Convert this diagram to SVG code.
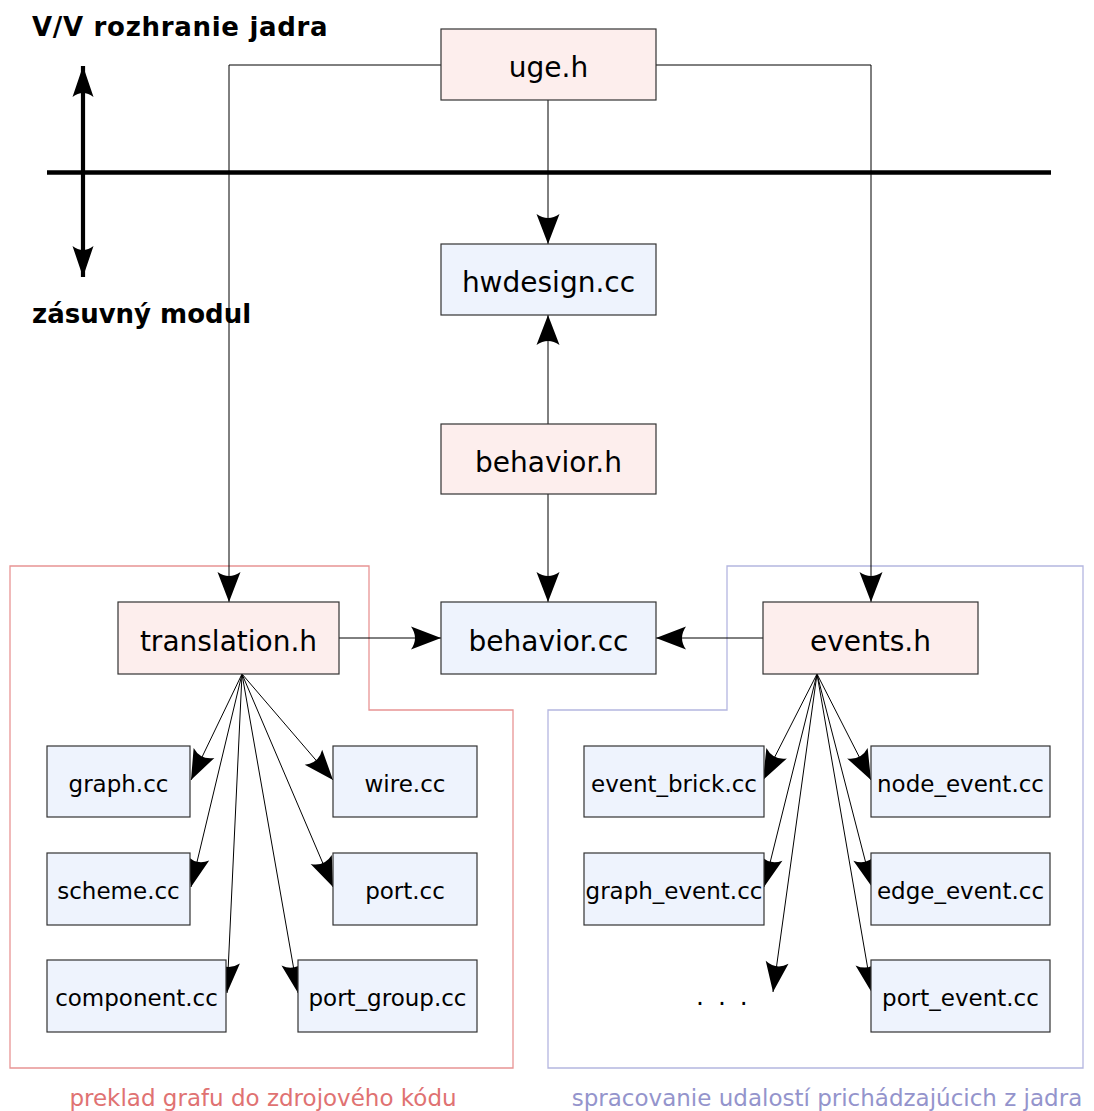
<svg xmlns="http://www.w3.org/2000/svg" width="1094" height="1111" viewBox="0 0 1094 1111">
  <style>
    .hdr rect { fill: #fdeeed; stroke: #333; stroke-width: 1.2; }
    .src rect { fill: #eef3fd; stroke: #333; stroke-width: 1.2; }
    .big { font-family: "DejaVu Sans", sans-serif; font-size: 28px; fill: #000; text-anchor: middle; }
    .small { font-family: "DejaVu Sans", sans-serif; font-size: 23px; fill: #000; text-anchor: middle; }
    .title { font-family: "DejaVu Sans", sans-serif; font-size: 26px; font-weight: bold; fill: #000; }
    .edge { fill: none; stroke: #000; stroke-width: 1; marker-end: url(#head); }
    .group-red { fill: none; stroke: #e89494; stroke-width: 1.3; }
    .group-blue { fill: none; stroke: #b4b6e0; stroke-width: 1.3; }
  </style>
  <defs>
    <marker id="head" viewBox="-31 -12 32 24" refX="0" refY="0" markerWidth="32" markerHeight="24" markerUnits="userSpaceOnUse" orient="auto">
      <path d="M0,0 L-30,-11.5 Q-22,0 -30,11.5 Z" fill="#000"/>
    </marker>
    <marker id="bighead" viewBox="-32 -12 33 24" refX="0" refY="0" markerWidth="33" markerHeight="24" markerUnits="userSpaceOnUse" orient="auto-start-reverse">
      <path d="M0,0 L-31,-10.5 Q-23,0 -31,10.5 Z" fill="#000"/>
    </marker>
  </defs>

  <rect width="1094" height="1111" fill="#fff"/>

  <!-- module group outlines -->
  <path class="group-red" d="M10,566 H369 V710 H513 V1068 H10 Z"/>
  <path class="group-blue" d="M727,566 H1083 V1068 H548 V710 H727 Z"/>

  <!-- kernel / plug-in boundary -->
  <g id="boundary">
    <line x1="47" y1="172.5" x2="1051" y2="172.5" stroke="#000" stroke-width="4.5"/>
    <line x1="83" y1="66" x2="83" y2="277" stroke="#000" stroke-width="4.2" marker-start="url(#bighead)" marker-end="url(#bighead)"/>
    <text class="title" x="32" y="36" style="letter-spacing:0.7px">V/V rozhranie jadra</text>
    <text class="title" x="32" y="323">zásuvný modul</text>
  </g>

  <!-- connectors -->
  <g id="connectors">
    <polyline class="edge" points="441,65 229,65 229,602"/>
    <polyline class="edge" points="656,65 871,65 871,602"/>
    <line class="edge" x1="548" y1="100" x2="548" y2="244"/>
    <line class="edge" x1="548" y1="424" x2="548" y2="315"/>
    <line class="edge" x1="548" y1="494" x2="548" y2="602"/>
    <line class="edge" x1="339" y1="638" x2="441" y2="638"/>
    <line class="edge" x1="763" y1="638" x2="656" y2="638"/>

    <line class="edge" x1="242" y1="674" x2="191" y2="780"/>
    <line class="edge" x1="242" y1="674" x2="191" y2="887"/>
    <line class="edge" x1="242" y1="674" x2="227" y2="993"/>
    <line class="edge" x1="242" y1="674" x2="298" y2="993"/>
    <line class="edge" x1="242" y1="674" x2="333" y2="887"/>
    <line class="edge" x1="242" y1="674" x2="333" y2="780"/>

    <line class="edge" x1="817" y1="674" x2="763" y2="780"/>
    <line class="edge" x1="817" y1="674" x2="764" y2="887"/>
    <line class="edge" x1="817" y1="674" x2="773" y2="992"/>
    <line class="edge" x1="817" y1="674" x2="871" y2="780"/>
    <line class="edge" x1="817" y1="674" x2="872" y2="887"/>
    <line class="edge" x1="817" y1="674" x2="872" y2="993"/>
  </g>

  <!-- core nodes -->
  <g id="uge_h" class="hdr">
    <rect x="441" y="29" width="215" height="71"/>
    <text class="big" x="548.5" y="77">uge.h</text>
  </g>
  <g id="hwdesign_cc" class="src">
    <rect x="441" y="244" width="215" height="71"/>
    <text class="big" x="548.5" y="292">hwdesign.cc</text>
  </g>
  <g id="behavior_h" class="hdr">
    <rect x="441" y="424" width="215" height="70"/>
    <text class="big" x="548.5" y="472">behavior.h</text>
  </g>
  <g id="behavior_cc" class="src">
    <rect x="441" y="602" width="215" height="72"/>
    <text class="big" x="548.5" y="651">behavior.cc</text>
  </g>
  <g id="translation_h" class="hdr">
    <rect x="118" y="602" width="221" height="72"/>
    <text class="big" x="228.5" y="651">translation.h</text>
  </g>
  <g id="events_h" class="hdr">
    <rect x="763" y="602" width="215" height="72"/>
    <text class="big" x="870.5" y="651">events.h</text>
  </g>

  <!-- translation sources -->
  <g id="graph_cc" class="src">
    <rect x="47" y="746" width="143" height="71"/>
    <text class="small" x="118.5" y="792">graph.cc</text>
  </g>
  <g id="scheme_cc" class="src">
    <rect x="47" y="853" width="143" height="72"/>
    <text class="small" x="118.5" y="899">scheme.cc</text>
  </g>
  <g id="component_cc" class="src">
    <rect x="47" y="960" width="179" height="72"/>
    <text class="small" x="136.5" y="1006">component.cc</text>
  </g>
  <g id="wire_cc" class="src">
    <rect x="333" y="746" width="144" height="71"/>
    <text class="small" x="405" y="792">wire.cc</text>
  </g>
  <g id="port_cc" class="src">
    <rect x="333" y="853" width="144" height="72"/>
    <text class="small" x="405" y="899">port.cc</text>
  </g>
  <g id="port_group_cc" class="src">
    <rect x="298" y="960" width="179" height="72"/>
    <text class="small" x="387.5" y="1006">port_group.cc</text>
  </g>

  <!-- event sources -->
  <g id="event_brick_cc" class="src">
    <rect x="584" y="746" width="180" height="71"/>
    <text class="small" x="674" y="792">event_brick.cc</text>
  </g>
  <g id="graph_event_cc" class="src">
    <rect x="584" y="853" width="180" height="72"/>
    <text class="small" x="674" y="899">graph_event.cc</text>
  </g>
  <g id="more_events">
    <text class="small" x="696" y="1005" style="text-anchor:start; letter-spacing:3px; font-size:25px">. . .</text>
  </g>
  <g id="node_event_cc" class="src">
    <rect x="871" y="746" width="179" height="71"/>
    <text class="small" x="960.5" y="792">node_event.cc</text>
  </g>
  <g id="edge_event_cc" class="src">
    <rect x="871" y="853" width="179" height="72"/>
    <text class="small" x="960.5" y="899">edge_event.cc</text>
  </g>
  <g id="port_event_cc" class="src">
    <rect x="871" y="960" width="179" height="72"/>
    <text class="small" x="960.5" y="1006">port_event.cc</text>
  </g>

  <!-- group captions -->
  <text class="small" x="263" y="1106" style="fill:#e07272">preklad grafu do zdrojového kódu</text>
  <text class="small" x="827" y="1106" style="fill:#9494cc">spracovanie udalostí prichádzajúcich z jadra</text>
</svg>
